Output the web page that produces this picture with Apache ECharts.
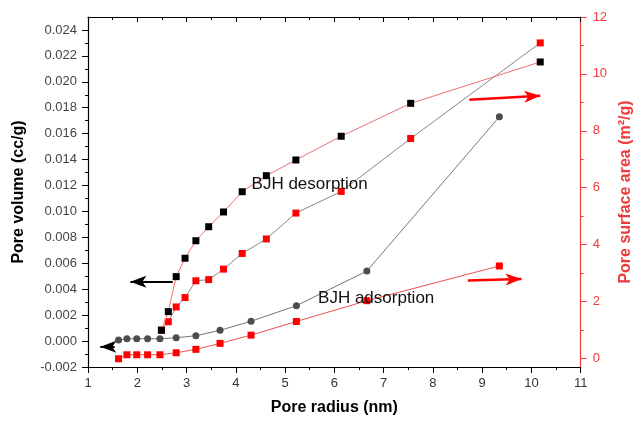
<!DOCTYPE html>
<html>
<head>
<meta charset="utf-8">
<script src="https://cdn.jsdelivr.net/npm/echarts@6/dist/echarts.min.js"></script>
<style>
  html, body { margin: 0; padding: 0; background: #fff; }
  #chart { width: 642px; height: 421px; }
</style>
</head>
<body>
<div id="chart"></div>
<script>
// BJH desorption branch: pore radius (nm), pore volume (cc/g), surface area (m2/g)
const radiusDes = [2.49, 2.63, 2.79, 2.97, 3.19, 3.45, 3.75, 4.13, 4.62, 5.22, 6.14, 7.55, 10.18];
const volumeDes = [0.00083, 0.00227, 0.00497, 0.00639, 0.00774, 0.00882, 0.00996, 0.01152, 0.01276, 0.01397, 0.0158, 0.01834, 0.02153];
const areaDes = [1.0, 1.29, 1.81, 2.14, 2.73, 2.77, 3.14, 3.69, 4.2, 5.11, 5.87, 7.73, 11.09];

// BJH adsorption branch
const radiusAds = [1.62, 1.79, 1.99, 2.21, 2.46, 2.79, 3.19, 3.68, 4.31, 5.23, 6.66, 9.35];
const volumeAds = [0.00008, 0.00018, 0.00018, 0.00018, 0.00018, 0.00026, 0.00041, 0.00083, 0.00153, 0.00273, 0.0054, 0.0173];
const areaAds = [-0.01, 0.13, 0.13, 0.13, 0.13, 0.2, 0.32, 0.53, 0.82, 1.30, 2.03, 3.25];

// Tick values
const volumeTicks = [-0.002, 0, 0.002, 0.004, 0.006, 0.008, 0.010, 0.012, 0.014, 0.016, 0.018, 0.020, 0.022, 0.024];
const volumeMinorTicks = [-0.001, 0.001, 0.003, 0.005, 0.007, 0.009, 0.011, 0.013, 0.015, 0.017, 0.019, 0.021, 0.023];
const areaTicks = [0, 2, 4, 6, 8, 10, 12];
const areaMinorTicks = [1, 3, 5, 7, 9, 11];

const pair = (xs, ys) => xs.map((x, i) => [x, ys[i]]);

const AREA_RED = '#ee3b3b';
const AXIS_FONT = 'Liberation Sans, Arial, sans-serif';

const chart = echarts.init(document.getElementById('chart'), null, { renderer: 'canvas' });

const xBase = {
  type: 'value', min: 1, max: 11, interval: 1,
  axisLine: { show: true, onZero: false, lineStyle: { color: '#000', width: 1.2 } },
  splitLine: { show: false }
};

const option = {
  backgroundColor: '#fff',
  animation: false,
  grid: { left: 88, right: 54, top: 17, bottom: 54, containLabel: false },
  xAxis: [
    Object.assign({}, xBase, {
      position: 'bottom',
      axisTick: { show: true, inside: false, length: 6, lineStyle: { color: '#000' } },
      minorTick: { show: true, splitNumber: 2, length: 3, lineStyle: { color: '#000' } },
      axisLabel: { fontSize: 13, color: '#333', margin: 10, fontFamily: AXIS_FONT },
      name: 'Pore radius (nm)', nameLocation: 'middle', nameGap: 33,
      nameTextStyle: { fontSize: 16, fontWeight: 'bold', color: '#000', fontFamily: AXIS_FONT }
    }),
    Object.assign({}, xBase, {
      position: 'top',
      axisTick: { show: true, inside: true, length: 5, lineStyle: { color: '#000' } },
      minorTick: { show: true, splitNumber: 2, length: 3, lineStyle: { color: '#000' } },
      axisLabel: { show: false }
    })
  ],
  yAxis: [
    {
      type: 'value', position: 'left', min: -0.002, max: 0.025,
      axisLine: { show: true, onZero: false, lineStyle: { color: '#000', width: 1.2 } },
      axisTick: { show: true, inside: false, length: 6, customValues: volumeTicks, lineStyle: { color: '#000' } },
      axisLabel: {
        customValues: volumeTicks, fontSize: 13, color: '#444', margin: 11, fontFamily: AXIS_FONT,
        formatter: v => v.toFixed(3)
      },
      splitLine: { show: false },
      name: 'Pore volume (cc/g)', nameLocation: 'middle', nameGap: 61, nameRotate: 90,
      nameTextStyle: { fontSize: 16, fontWeight: 'bold', color: '#000', fontFamily: AXIS_FONT }
    },
    {
      type: 'value', position: 'right', min: -0.3, max: 12,
      axisLine: { show: true, onZero: false, lineStyle: { color: AREA_RED, width: 1.2 } },
      axisTick: { show: true, inside: false, length: 6, customValues: areaTicks, lineStyle: { color: AREA_RED } },
      axisLabel: { customValues: areaTicks, fontSize: 13, color: AREA_RED, margin: 12, fontFamily: AXIS_FONT },
      splitLine: { show: false },
      name: 'Pore surface area (m²/g)', nameLocation: 'middle', nameGap: 33, nameRotate: 90,
      nameTextStyle: { fontSize: 16, fontWeight: 'bold', color: AREA_RED, fontFamily: AXIS_FONT }
    },
    {
      // minor ticks for the volume axis
      type: 'value', position: 'left', min: -0.002, max: 0.025,
      axisLine: { show: false },
      axisTick: { show: true, inside: false, length: 3, customValues: volumeMinorTicks, lineStyle: { color: '#000' } },
      axisLabel: { show: false }, splitLine: { show: false }
    },
    {
      // minor ticks for the surface area axis
      type: 'value', position: 'right', min: -0.3, max: 12,
      axisLine: { show: false },
      axisTick: { show: true, inside: false, length: 3, customValues: areaMinorTicks, lineStyle: { color: AREA_RED } },
      axisLabel: { show: false }, splitLine: { show: false }
    }
  ],
  series: [
    {
      name: 'Desorption surface area', type: 'line', yAxisIndex: 1,
      data: pair(radiusDes, areaDes),
      symbol: 'rect', symbolSize: 7,
      itemStyle: { color: '#ff0000' },
      lineStyle: { color: '#888', width: 1 },
      z: 2
    },
    {
      name: 'Desorption pore volume', type: 'line', yAxisIndex: 0,
      data: pair(radiusDes, volumeDes),
      symbol: 'rect', symbolSize: 7,
      itemStyle: { color: '#000' },
      lineStyle: { color: '#f07070', width: 1 },
      z: 3,
      markLine: {
        silent: true, animation: false,
        label: { show: false },
        lineStyle: { color: '#000', width: 2, type: 'solid' },
        data: [
          [{ coord: [2.72, 0.00458], symbol: 'none' }, { coord: [1.86, 0.00458], symbol: 'arrow', symbolSize: [9, 16] }],
          [{ coord: [1.54, -0.00043], symbol: 'none' }, { coord: [1.25, -0.00043], symbol: 'arrow', symbolSize: [9, 16] }]
        ]
      },
      markPoint: {
        silent: true, animation: false, symbolSize: 0,
        data: [
          { coord: [4.32, 0.01212], label: { show: true, position: 'right', distance: 0, formatter: 'BJH desorption', color: '#111', fontSize: 17, fontFamily: AXIS_FONT } },
          { coord: [5.67, 0.0033], label: { show: true, position: 'right', distance: 0, formatter: 'BJH adsorption', color: '#111', fontSize: 17, fontFamily: AXIS_FONT } }
        ]
      }
    },
    {
      name: 'Adsorption pore volume', type: 'line', yAxisIndex: 0,
      data: pair(radiusAds, volumeAds),
      symbol: 'circle', symbolSize: 7,
      itemStyle: { color: '#4d4d4d' },
      lineStyle: { color: '#777', width: 1 },
      z: 2
    },
    {
      name: 'Adsorption surface area', type: 'line', yAxisIndex: 1,
      data: pair(radiusAds, areaAds),
      symbol: 'rect', symbolSize: 7,
      itemStyle: { color: '#ff0000' },
      lineStyle: { color: '#f05050', width: 1 },
      z: 2,
      markLine: {
        silent: true, animation: false,
        label: { show: false },
        lineStyle: { color: '#ff0000', width: 2.5, type: 'solid' },
        data: [
          [{ coord: [8.71, 2.74], symbol: 'none' }, { coord: [9.8, 2.79], symbol: 'arrow', symbolSize: [9, 16] }],
          [{ coord: [8.74, 9.09], symbol: 'none' }, { coord: [10.18, 9.23], symbol: 'arrow', symbolSize: [9, 16] }]
        ]
      }
    }
  ]
};

chart.setOption(option);
</script>
</body>
</html>
